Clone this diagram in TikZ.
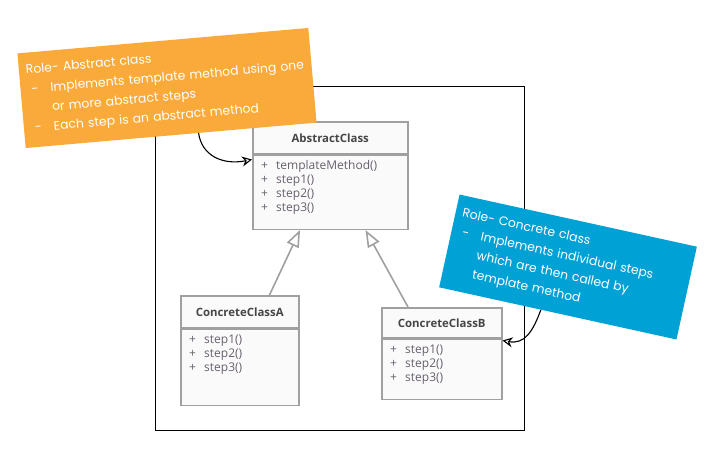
\documentclass[tikz,border=0pt]{standalone}
\usepackage{fontspec}
\setmainfont{Open Sans}
\newfontfamily\notefont{Poppins}
\usetikzlibrary{positioning,arrows.meta}

\definecolor{noteorange}{RGB}{250,170,58}
\definecolor{noteblue}{RGB}{0,162,214}
\definecolor{boxgray}{RGB}{160,160,160}
\definecolor{boxfill}{RGB}{250,250,250}
\definecolor{titlegray}{RGB}{70,70,70}
\definecolor{opgray}{RGB}{105,95,110}

\newcommand{\notedash}{\makebox[23pt][l]{\hspace{4pt}-}}
\newcommand{\opplus}{\makebox[15pt][l]{+}}

\tikzset{
  classname/.style={draw=boxgray, fill=boxfill, line width=1.5pt, anchor=north west, inner sep=0pt,
    font=\fontsize{11.4}{13}\selectfont\bfseries, text=titlegray},
  classbody/.style={draw=boxgray, fill=boxfill, line width=1.5pt, anchor=north west, inner sep=0pt},
  op/.style={anchor=west, inner sep=0pt, font=\fontsize{12}{13}\selectfont, text=opgray},
  note/.style={text=white, align=left, inner sep=7pt, minimum height=95pt,
    font=\notefont\fontsize{12.4}{19.5}\selectfont},
  inherit/.style={draw=boxgray, line width=1.6pt, -{Triangle[open, length=17pt, width=13pt]}},
  pointer/.style={black, line width=1.1pt, -{Stealth[open, length=10pt, width=10pt]}}
}

\begin{document}
\begin{tikzpicture}[x=1pt, y=-1pt]

\useasboundingbox (0,0) rectangle (717,451);

\draw[line width=1pt] (155,86) rectangle (524,430);

% abstract class
\node[classname, minimum width=155pt, minimum height=32pt] (abs) at (252,121) {AbstractClass};
\node[classbody, minimum width=155pt, minimum height=74pt] (absbody) at (abs.south west) {};
\node[op] (abs0) at (261,166) {\opplus templateMethod()};
\foreach \i in {1,2,3} {
        \node[op] (abs\i) at (261,166+14.3*\i) {\opplus step\i()};
}

% concrete classes
\node[classname, minimum width=118pt, minimum height=32pt] (cA) at (180,295) {ConcreteClassA};
\node[classbody, minimum width=118pt, minimum height=76pt] (cAbody) at (cA.south west) {};
\foreach \i in {1,2,3} {
        \node[op] (cA\i) at (189,327+14*\i) {\opplus step\i()};
}

\node[classname, minimum width=120pt, minimum height=30pt] (cB) at (381,307) {ConcreteClassB};
\node[classbody, minimum width=120pt, minimum height=60pt] (cBbody) at (cB.south west) {};
\foreach \i in {1,2,3} {
        \node[op] (cB\i) at (390,337+14*\i) {\opplus step\i()};
}

\draw[inherit] ([xshift=-30pt]cA.north east) -- ([xshift=48pt]absbody.south west);
\draw[inherit] ([xshift=27pt]cB.north west) -- ([xshift=-43pt]absbody.south east);

% notes
\node[note, fill=noteorange, rotate=5, minimum width=292pt, text width=278pt] (onote) at (167,88)
  {Role- Abstract class\\
   \notedash Implements template method using one\\
   \hspace*{23pt}or more abstract steps\\
   \notedash Each step is an abstract method};
\node[note, fill=noteblue, rotate=-12.4, minimum width=243pt, text width=229pt] (bnote) at (568,267)
  {Role- Concrete class\\
   \notedash Implements individual steps\\
   \hspace*{23pt}which are then called by\\
   \hspace*{23pt}template method};

\draw[pointer] (onote.-60) .. controls +(3,22) and +(-30,6) .. ([yshift=-5pt]absbody.north west);
\draw[pointer] (bnote.-110) .. controls +(-8,22) and +(22,4) .. ([yshift=-2pt]cB.south east);

\end{tikzpicture}
\end{document}
